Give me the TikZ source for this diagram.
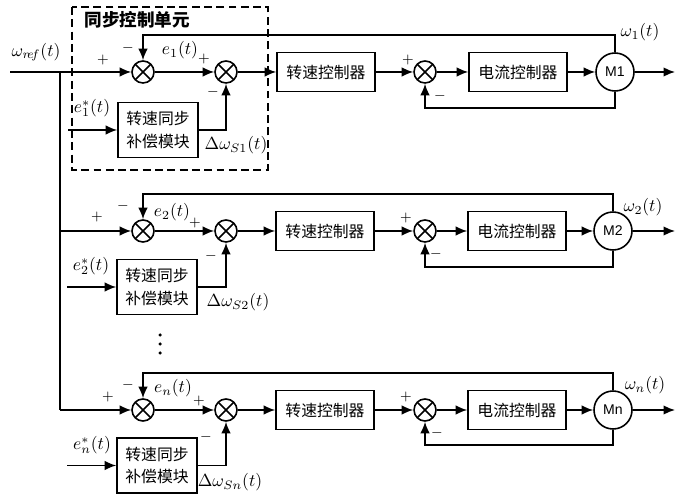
\documentclass[tikz,border=0pt]{standalone}
\usepackage{fontspec}
\usepackage{amsmath}
\usepackage{tikz}
\usetikzlibrary{arrows.meta}
\newfontfamily\cjk{Noto Sans CJK SC}
\newfontfamily\msans{Liberation Sans}

\begin{document}
\begin{tikzpicture}[line width=0.9pt,
  sig/.style={-{Latex[length=2.3mm,width=1.9mm]}},
  sumnode/.style={circle, draw, minimum size=0.44cm, inner sep=0,
    path picture={\draw (path picture bounding box.north west) -- (path picture bounding box.south east)
      (path picture bounding box.south west) -- (path picture bounding box.north east);}},
  ctrl/.style={draw, minimum width=1.96cm, minimum height=0.78cm, font=\cjk\fontsize{9}{11}\selectfont},
  comp/.style={draw, minimum width=1.6cm, minimum height=1.1cm, align=center, font=\cjk\fontsize{9}{13}\selectfont},
  motor/.style={circle, draw, minimum size=0.76cm, inner sep=0, font=\msans\fontsize{8}{9}\selectfont},
  pm/.style={inner sep=0, font=\footnotesize}]
        \useasboundingbox (0,0) rectangle (13.6,-10);

        % row 1
        \node (s1a) [sumnode] at (2.86, -1.44) {};
        \node (s1b) [sumnode] at (4.52, -1.44) {};
        \node (sc1) [ctrl] at (6.52, -1.44) {转速控制器};
        \node (s1c) [sumnode] at (8.50, -1.44) {};
        \node (cc1) [ctrl] at (10.36, -1.44) {电流控制器};
        \node (m1) [motor] at (12.30, -1.44) {M1};
        \node (cp1) [comp] at (3.16, -2.60) {转速同步\\补偿模块};

        % row 2
        \node (s2a) [sumnode] at (2.86, -4.62) {};
        \node (s2b) [sumnode] at (4.52, -4.62) {};
        \node (sc2) [ctrl] at (6.50, -4.62) {转速控制器};
        \node (s2c) [sumnode] at (8.50, -4.62) {};
        \node (cc2) [ctrl] at (10.34, -4.62) {电流控制器};
        \node (m2) [motor] at (12.26, -4.62) {M2};
        \node (cp2) [comp] at (3.14, -5.74) {转速同步\\补偿模块};

        % row n
        \node (sna) [sumnode] at (2.86, -8.20) {};
        \node (snb) [sumnode] at (4.52, -8.20) {};
        \node (scn) [ctrl] at (6.50, -8.20) {转速控制器};
        \node (snc) [sumnode] at (8.50, -8.20) {};
        \node (ccn) [ctrl] at (10.34, -8.20) {电流控制器};
        \node (mn) [motor] at (12.26, -8.20) {Mn};
        \node (cpn) [comp] at (3.14, -9.31) {转速同步\\补偿模块};

        \coordinate (in) at (0.2, -1.44);
        \coordinate (br1) at (1.2, -1.44);
        \coordinate (br2) at (1.2, -4.62);
        \coordinate (brn) at (1.2, -8.20);
        \coordinate (o1) at (13.5, -1.44);
        \coordinate (o2) at (13.5, -4.62);
        \coordinate (on) at (13.5, -8.20);
        \coordinate (f1) at (2.86, -0.70);
        \coordinate (f2) at (2.86, -3.88);
        \coordinate (fn) at (2.86, -7.46);
        \coordinate (i1) at (8.50, -2.16);
        \coordinate (i2) at (8.50, -5.34);
        \coordinate (in2) at (8.50, -8.90);
        \coordinate (e1) at (1.36, -2.60);
        \coordinate (e2) at (1.34, -5.74);
        \coordinate (en) at (1.34, -9.31);

        % synchronisation unit
        \draw[dashed, dash pattern=on 4.5pt off 2.5pt, line width=0.7pt] (1.44, -0.14) rectangle (5.36, -3.40);
        \node (ttl) [anchor=west, font=\cjk\bfseries\fontsize{10}{12}\selectfont] at (1.56, -0.40) {同步控制单元};

        \node (wref) [anchor=west] at (0.10, -1.04) {$\omega_{r\!e\!f}(t)$};

        \node (p1a) [pm] at (2.06, -1.20) {$+$};
        \node (n1a) [pm] at (2.56, -0.96) {$-$};
        \node (l1e) at (3.60, -1.00) {$e_1(t)$};
        \node (p1b) [pm] at (4.08, -1.18) {$+$};
        \node (n1b) [pm] at (4.26, -1.84) {$-$};
        \node (l1s) at (1.84, -2.16) {$e_1^{*}(t)$};
        \node (l1d) at (4.72, -2.90) {$\Delta\omega_{S1}(t)$};
        \node (p1c) [pm] at (8.16, -1.20) {$+$};
        \node (n1c) [pm] at (8.80, -1.92) {$-$};
        \node (l1w) at (12.80, -0.64) {$\omega_1(t)$};

        \node (p2a) [pm] at (1.94, -4.34) {$+$};
        \node (n2a) [pm] at (2.46, -4.12) {$-$};
        \node (l2e) at (3.44, -4.24) {$e_2(t)$};
        \node (p2b) [pm] at (3.90, -4.46) {$+$};
        \node (n2b) [pm] at (4.22, -5.12) {$-$};
        \node (l2s) at (1.82, -5.32) {$e_2^{*}(t)$};
        \node (l2d) at (4.76, -6.04) {$\Delta\omega_{S2}(t)$};
        \node (p2c) [pm] at (8.12, -4.36) {$+$};
        \node (n2c) [pm] at (8.72, -5.08) {$-$};
        \node (l2w) at (12.86, -4.14) {$\omega_2(t)$};

        \node (pna) [pm] at (2.16, -7.94) {$+$};
        \node (nna) [pm] at (2.56, -7.70) {$-$};
        \node (lne) at (3.46, -7.76) {$e_n(t)$};
        \node (pnb) [pm] at (3.98, -8.02) {$+$};
        \node (nnb) [pm] at (4.12, -8.74) {$-$};
        \node (lns) at (1.84, -8.90) {$e_n^{*}(t)$};
        \node (lnd) at (4.60, -9.64) {$\Delta\omega_{Sn}(t)$};
        \node (pnc) [pm] at (8.12, -7.94) {$+$};
        \node (nnc) [pm] at (8.74, -8.66) {$-$};
        \node (lnw) at (12.90, -7.70) {$\omega_n(t)$};

        \fill (3.2, -6.70) circle (0.035) (3.2, -6.88) circle (0.035) (3.2, -7.06) circle (0.035);

        \draw (br1) -- (brn);
        \draw[sig] (in) -- (s1a);
        \draw[sig] (br2) -- (s2a);
        \draw[sig] (brn) -- (sna);

        \path[sig]
        (s1a) edge (s1b)
        (s1b) edge (sc1)
        (sc1) edge (s1c)
        (s1c) edge (cc1)
        (cc1) edge (m1)
        (m1) edge (o1)
        (e1) edge (cp1)

        (s2a) edge (s2b)
        (s2b) edge (sc2)
        (sc2) edge (s2c)
        (s2c) edge (cc2)
        (cc2) edge (m2)
        (m2) edge (o2)
        (e2) edge (cp2)

        (sna) edge (snb)
        (snb) edge (scn)
        (scn) edge (snc)
        (snc) edge (ccn)
        (ccn) edge (mn)
        (mn) edge (on)
        (en) edge (cpn)
        ;

        \draw[sig] (m1.north) |- (f1) -- (s1a.north);
        \draw[sig] (m1.south) |- (i1) -- (s1c.south);
        \draw[sig] (cp1.east) -| (s1b.south);
        \draw[sig] (m2.north) |- (f2) -- (s2a.north);
        \draw[sig] (m2.south) |- (i2) -- (s2c.south);
        \draw[sig] (cp2.east) -| (s2b.south);
        \draw[sig] (mn.north) |- (fn) -- (sna.north);
        \draw[sig] (mn.south) |- (in2) -- (snc.south);
        \draw[sig] (cpn.east) -| (snb.south);
      \end{tikzpicture}
\end{document}
